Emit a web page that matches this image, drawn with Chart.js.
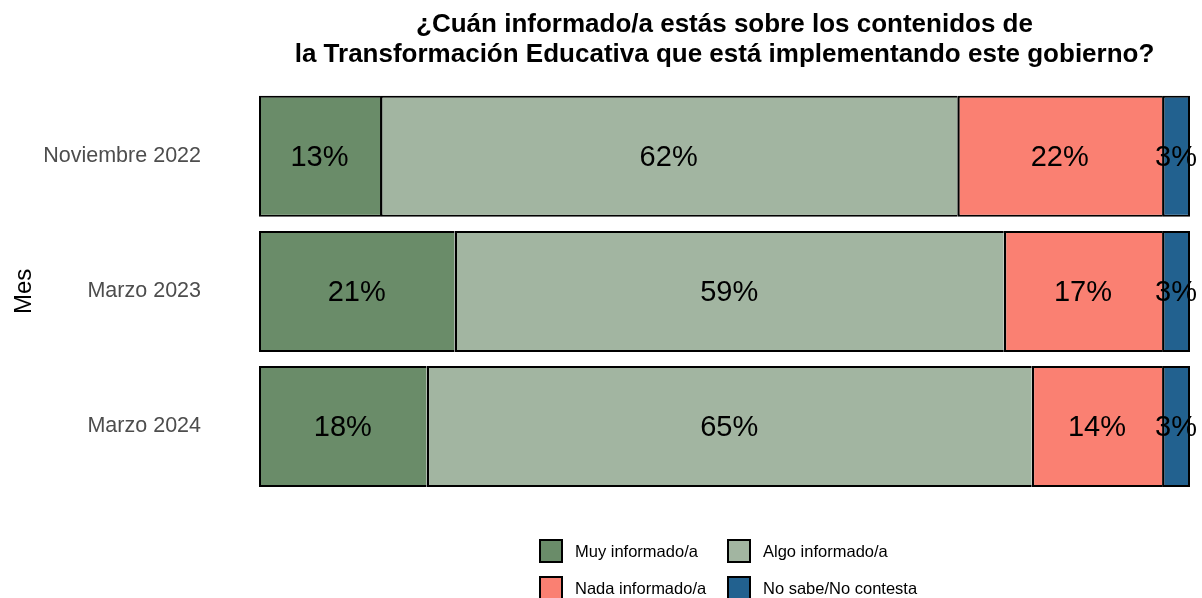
<!DOCTYPE html>
<html>
<head>
<meta charset="utf-8">
<script src="https://cdn.jsdelivr.net/npm/chart.js@4"></script>
<style>
  body { margin: 0; background: #fff; font-family: "Liberation Sans", Arial, sans-serif; }
  #wrap { position: relative; width: 1202px; height: 598px; }
  .leg { position: absolute; display: flex; align-items: center; font-size: 16.5px; color: #000; }
  .leg span.box { width: 20px; height: 20px; border: 2px solid #000; box-sizing: content-box; margin-right: 12px; }
</style>
</head>
<body>
<div id="wrap">
  <canvas id="chart" width="1202" height="598"></canvas>
  <div id="legend"></div>
</div>
<script>
// Datos
const meses = ['Noviembre 2022', 'Marzo 2023', 'Marzo 2024'];
const muyInformado = [13, 21, 18];
const algoInformado = [62, 59, 65];
const nadaInformado = [22, 17, 14];
const noSabe = [3, 3, 3];
const series = ['Muy informado/a', 'Algo informado/a', 'Nada informado/a', 'No sabe/No contesta'];
const colores = ['#6a8c69', '#a2b5a1', '#fa8072', '#22618f'];

const valores = [muyInformado, algoInformado, nadaInformado, noSabe];

// Bordes: cada tramo dibuja su borde izquierdo, el último también el derecho
function bordes(i) {
    return {
        top: 2, bottom: 2,
        left: i === 0 ? 2 : 2.5,
        right: i === valores.length - 1 ? 2 : 0
    };
}

// Etiquetas dentro de las barras
const etiquetas = {
    id: 'etiquetas',
    afterDatasetsDraw(chart) {
        const ctx = chart.ctx;
        ctx.save();
        ctx.font = '29px "Liberation Sans", Arial, sans-serif';
        ctx.fillStyle = '#000';
        ctx.textAlign = 'center';
        ctx.textBaseline = 'middle';
        chart.data.datasets.forEach((ds, i) => {
            chart.getDatasetMeta(i).data.forEach((el, j) => {
                ctx.fillText(ds.data[j] + '%', (el.x + el.base) / 2, el.y + 2);
            });
        });
        ctx.restore();
    }
};

new Chart(document.getElementById('chart'), {
    type: 'bar',
    data: {
        labels: meses,
        datasets: valores.map((v, i) => ({
            label: series[i],
            data: v,
            backgroundColor: colores[i],
            borderColor: '#000',
            borderWidth: bordes(i),
            borderSkipped: false,
            inflateAmount: 0,
            categoryPercentage: 1,
            barPercentage: 0.896
        }))
    },
    options: {
        indexAxis: 'y',
        responsive: false,
        animation: false,
        layout: { padding: { top: 0, bottom: 104, right: 12, left: 0 } },
        plugins: {
            legend: { display: false },
            tooltip: { enabled: false },
            title: {
                display: true,
                fullSize: false,
                text: ['¿Cuán informado/a estás sobre los contenidos de',
                       'la Transformación Educativa que está implementando este gobierno?'],
                color: '#000',
                font: { family: '"Liberation Sans", Arial, sans-serif', size: 26, weight: 'bold', lineHeight: 1.15 },
                padding: { top: 10, bottom: 19 }
            }
        },
        scales: {
            x: {
                stacked: true,
                min: 0,
                max: 100,
                display: false
            },
            y: {
                stacked: true,
                grid: { display: false, drawTicks: false },
                border: { display: false },
                ticks: {
                    color: '#4d4d4d',
                    padding: 58,
                    font: { family: '"Liberation Sans", Arial, sans-serif', size: 21.5 }
                },
                title: {
                    display: true,
                    text: 'Mes',
                    color: '#000',
                    padding: { top: 10 },
                    font: { family: '"Liberation Sans", Arial, sans-serif', size: 24 }
                },
                afterFit(scale) { scale.width = 259; }
            }
        }
    },
    plugins: [etiquetas]
});

// Leyenda 2x2
const posLeyenda = [[539, 539], [727, 539], [539, 576], [727, 576]];
const legend = document.getElementById('legend');
series.forEach((s, i) => {
    const d = document.createElement('div');
    d.className = 'leg';
    d.style.left = posLeyenda[i][0] + 'px';
    d.style.top = posLeyenda[i][1] + 'px';
    d.innerHTML = '<span class="box" style="background:' + colores[i] + '"></span>' + s;
    legend.appendChild(d);
});
</script>
</body>
</html>
